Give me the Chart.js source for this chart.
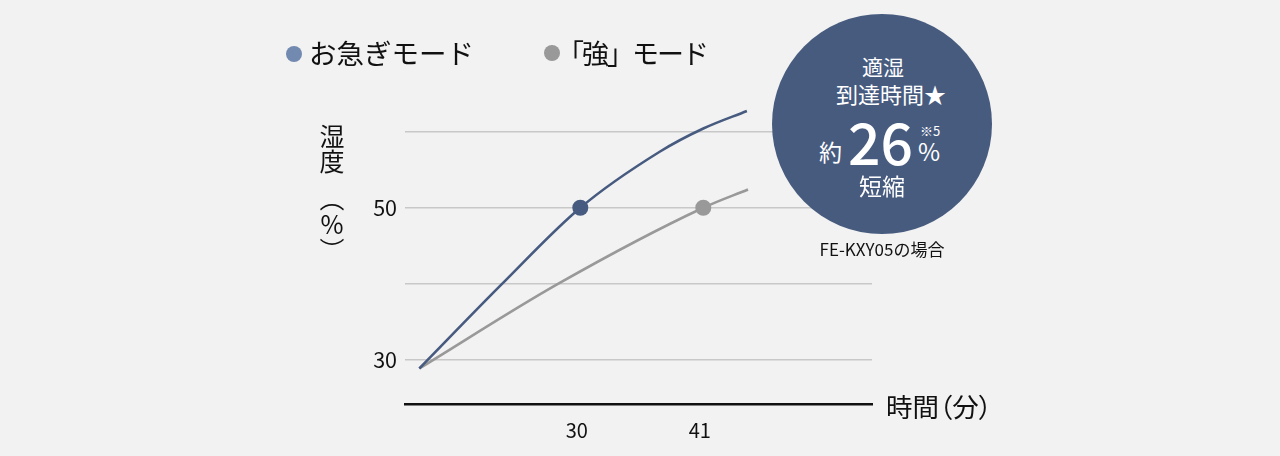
<!DOCTYPE html>
<html><head><meta charset="utf-8">
<script src="https://cdn.jsdelivr.net/npm/chart.js@4"></script>
<style>
html,body{margin:0;padding:0;background:#f2f2f2;}
#wrap{position:relative;width:1280px;height:456px;overflow:hidden;font-family:"Noto Sans CJK JP","Noto Sans",sans-serif;color:#111;}
canvas{position:absolute;left:0;top:0;}
.t{position:absolute;white-space:nowrap;line-height:1;}
.c{transform:translateX(-50%);text-align:center;}
.dot{position:absolute;width:16px;height:16px;border-radius:50%;}
#circle{position:absolute;left:772px;top:14px;width:220px;height:220px;border-radius:50%;background:#475b7f;}
.w{color:#fff;}
</style></head><body>
<div id="wrap">
<canvas id="c" width="1280" height="456"></canvas>
<div class="dot" style="left:286px;top:46px;background:#7289b0"></div>
<div class="t" style="left:309px;top:39px;font-size:27.5px;">お急ぎモード</div>
<div class="dot" style="left:544px;top:45px;background:#999999"></div>
<div class="t" style="left:557px;top:39px;font-size:27px;letter-spacing:-2px;">「強」モード</div>
<div class="t" style="left:319px;top:124px;font-size:25px;writing-mode:vertical-rl;">湿度</div>
<div class="t c" style="left:332px;top:185px;font-size:25px;">︵</div>
<div class="t c" style="left:332px;top:211px;font-size:25px;">%</div>
<div class="t c" style="left:332px;top:237px;font-size:25px;">︶</div>
<div class="t" style="left:886px;top:393px;font-size:26.5px;font-feature-settings:'palt';">時間（分）</div>
<div id="circle"></div>
<div class="t w c" style="left:883px;top:56px;font-size:21px;">適湿</div>
<div class="t w c" style="left:891px;top:82px;font-size:22px;">到達時間★</div>
<div class="t w" style="left:819px;top:140px;font-size:23px;">約</div>
<div class="t w" style="left:848px;top:112px;font-size:57px;font-weight:500;">26</div>
<div class="t w" style="left:920px;top:124px;font-size:13px;">※5</div>
<div class="t w" style="left:918px;top:139px;font-size:24px;">%</div>
<div class="t w c" style="left:882px;top:174px;font-size:23px;">短縮</div>
<div class="t c" style="left:882px;top:240px;font-size:17px;">FE-KXY05の場合</div>
</div>
<script>
// 時間（分） and 湿度（%）
const blueTimes = [15.6, 23.0, 30, 37.1, 41.0, 44.9];
const blueHumidity = [28.9, 40.0, 50, 57.35, 60.4, 62.7];
const grayTimes = [15.6, 28.0, 41, 45.0];
const grayHumidity = [28.9, 40.0, 50, 52.4];
const blueMarkerTime = 30;
const grayMarkerTime = 41;
const xTickValues = [30, 41];
const yGridValues = [30, 40, 50, 60];
const yLabelValues = [30, 50];
const seriesNames = ['お急ぎモード', '「強」モード'];

const toPts = (xs, ys) => xs.map((x, i) => ({x, y: ys[i]}));
const FONT = '"Noto Sans CJK JP","Noto Sans",sans-serif';

new Chart(document.getElementById('c'), {
  type: 'line',
  data: {
    datasets: [
      {
        label: seriesNames[0],
        data: toPts(blueTimes, blueHumidity),
        borderColor: '#475b80',
        backgroundColor: '#475b80',
        borderWidth: 2.6,
        cubicInterpolationMode: 'monotone',
        pointRadius: c => (c.raw && c.raw.x === blueMarkerTime) ? 8 : 0,
        pointBorderWidth: 0
      },
      {
        label: seriesNames[1],
        data: toPts(grayTimes, grayHumidity),
        borderColor: '#999999',
        backgroundColor: '#999999',
        borderWidth: 2.6,
        cubicInterpolationMode: 'monotone',
        pointRadius: c => (c.raw && c.raw.x === grayMarkerTime) ? 8 : 0,
        pointBorderWidth: 0
      }
    ]
  },
  options: {
    responsive: false,
    animation: false,
    devicePixelRatio: 1,
    layout: {padding: {top: 108.7, right: 408, left: 0, bottom: 0}},
    plugins: {legend: {display: false}, tooltip: {enabled: false}},
    scales: {
      x: {
        type: 'linear',
        min: 14.32, max: 56.09,
        afterFit: s => { s.height = 52; },
        afterBuildTicks: s => { s.ticks = xTickValues.map(v => ({value: v})); },
        grid: {display: false, drawTicks: false},
        border: {display: true, color: '#111', width: 2.5},
        ticks: {padding: 14, labelOffset: -3.5, color: '#111', font: {family: FONT, size: 20}, maxRotation: 0, autoSkip: false}
      },
      y: {
        type: 'linear',
        min: 24.24, max: 63,
        afterFit: s => { s.width = 405; },
        afterBuildTicks: s => { s.ticks = yGridValues.map(v => ({value: v})); },
        grid: {color: '#c8c8c8', lineWidth: 1.5, drawTicks: false},
        border: {display: false},
        ticks: {
          padding: 8, color: '#111', font: {family: FONT, size: 21.5}, autoSkip: false,
          callback: v => yLabelValues.includes(v) ? String(v) : ''
        }
      }
    }
  }
});
</script>
</body></html>
